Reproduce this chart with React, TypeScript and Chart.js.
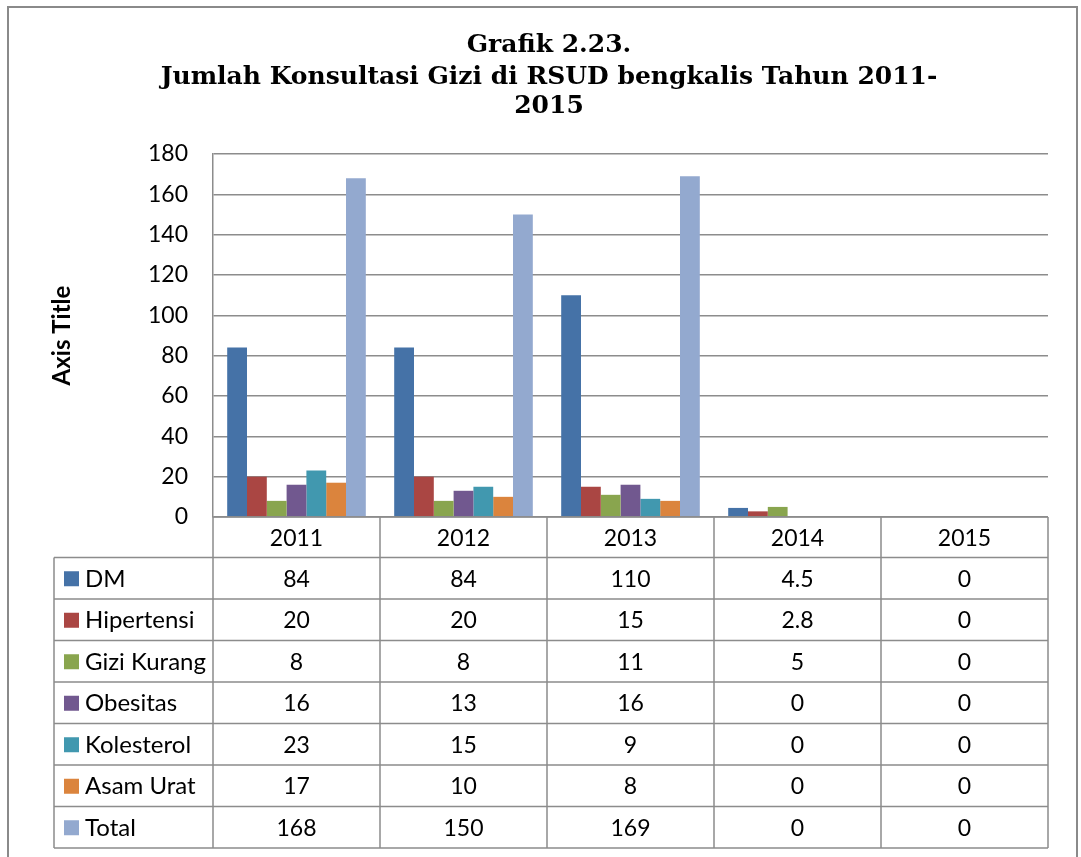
import React, { useEffect, useRef } from "react";
import { Chart, registerables } from "chart.js";

Chart.register(...registerables);

const categories = ["2011", "2012", "2013", "2014", "2015"];
const seriesNames = ["DM", "Hipertensi", "Gizi Kurang", "Obesitas", "Kolesterol", "Asam Urat", "Total"];
const dm = [84, 84, 110, 4.5, 0];
const hipertensi = [20, 20, 15, 2.8, 0];
const giziKurang = [8, 8, 11, 5, 0];
const obesitas = [16, 13, 16, 0, 0];
const kolesterol = [23, 15, 9, 0, 0];
const asamUrat = [17, 10, 8, 0, 0];
const total = [168, 150, 169, 0, 0];
const seriesColors = ["#4572A7", "#AA4643", "#89A54E", "#71588F", "#4198AF", "#DB843D", "#93A9CF"];
const titleLines = ["Grafik 2.23.", "Jumlah Konsultasi Gizi di RSUD bengkalis Tahun 2011-", "2015"];
const yAxisTitle = "Axis Title";
const yMin = 0;
const yMax = 180;
const yStep = 20;

const seriesValues = [dm, hipertensi, giziKurang, obesitas, kolesterol, asamUrat, total];

const GRID = "#8c8c8c";
const FONT = "Lato, 'Open Sans', sans-serif";

const framePlugin = {
  id: "frameAndTable",
  beforeDraw(chart: any) {
    const ctx = chart.ctx;
    ctx.save();
    ctx.fillStyle = "#ffffff";
    ctx.fillRect(0, 0, chart.width, chart.height);
    ctx.strokeStyle = "#8a8a8a";
    ctx.lineWidth = 2;
    ctx.strokeRect(8, 7, 1069, 900);
    ctx.restore();
  },
  afterDraw(chart: any) {
    const ctx = chart.ctx;
    const area = chart.chartArea;
    const xs = chart.scales.x;
    const n = categories.length;
    const colW = (area.right - area.left) / n;
    const headerH = 40.5;
    const rowH = 41.5;
    const legendLeft = 54;
    const headerBottom = area.bottom + headerH;
    const tableBottom = headerBottom + rowH * seriesNames.length;

    ctx.save();
    // title
    ctx.fillStyle = "#000";
    ctx.textAlign = "center";
    ctx.textBaseline = "middle";
    ctx.font = "bold 25px 'DejaVu Serif', serif";
    const tY = [45, 77, 106];
    titleLines.forEach((t, i) => ctx.fillText(t, 549, tY[i]));

    // table lines
    ctx.strokeStyle = GRID;
    ctx.lineWidth = 1.5;
    ctx.beginPath();
    ctx.moveTo(area.left, area.bottom);
    ctx.lineTo(area.right, area.bottom);
    for (let r = 0; r <= seriesNames.length; r++) {
      const y = headerBottom + r * rowH;
      ctx.moveTo(legendLeft, y);
      ctx.lineTo(area.right, y);
    }
    ctx.moveTo(legendLeft, headerBottom);
    ctx.lineTo(legendLeft, tableBottom);
    for (let i = 0; i < n; i++) {
      const cx = xs.getPixelForValue(i);
      const xl = cx - colW / 2;
      ctx.moveTo(xl, area.bottom);
      ctx.lineTo(xl, tableBottom);
    }
    ctx.moveTo(area.right, area.bottom);
    ctx.lineTo(area.right, tableBottom);
    ctx.stroke();

    // header labels
    ctx.fillStyle = "#000";
    ctx.font = `23px ${FONT}`;
    ctx.textAlign = "center";
    ctx.textBaseline = "middle";
    categories.forEach((c, i) => {
      ctx.fillText(c, xs.getPixelForValue(i), area.bottom + headerH / 2 + 1);
    });

    // rows
    seriesNames.forEach((name, r) => {
      const cy = headerBottom + r * rowH + rowH / 2 + 1;
      ctx.fillStyle = seriesColors[r];
      ctx.fillRect(64, cy - 8, 15, 15);
      ctx.fillStyle = "#000";
      ctx.textAlign = "left";
      ctx.font = `24px ${FONT}`;
      ctx.fillText(name, 85, cy);
      ctx.textAlign = "center";
      ctx.font = `23px ${FONT}`;
      seriesValues[r].forEach((v, i) => {
        ctx.fillText(String(v), xs.getPixelForValue(i), cy);
      });
    });
    ctx.restore();
  },
};

export default function App() {
  const ref = useRef<HTMLCanvasElement | null>(null);

  useEffect(() => {
    if (!ref.current) return;
    const chart = new Chart(ref.current, {
      type: "bar",
      data: {
        labels: categories,
        datasets: seriesNames.map((name, i) => ({
          label: name,
          data: seriesValues[i],
          backgroundColor: seriesColors[i],
          borderWidth: 0,
          categoryPercentage: 0.83,
          barPercentage: 1.0,
        })),
      },
      options: {
        responsive: false,
        animation: false,
        layout: { padding: { left: 0, top: 154, right: 33, bottom: 0 } },
        plugins: {
          legend: { display: false },
          title: { display: false },
          tooltip: { enabled: false },
        },
        scales: {
          x: {
            ticks: { display: false },
            grid: { display: false },
            border: { display: false },
            afterFit(scale: any) {
              scale.height = 340;
            },
          },
          y: {
            min: yMin,
            max: yMax,
            ticks: {
              stepSize: yStep,
              color: "#000",
              font: { family: FONT, size: 23 },
              padding: 25,
            },
            grid: { color: GRID, lineWidth: 1.5, drawTicks: false },
            border: { display: true, color: GRID, width: 1.5 },
            title: {
              display: true,
              text: yAxisTitle,
              color: "#000",
              font: { family: FONT, size: 24, weight: "bold" },
              padding: { top: 48, bottom: 0 },
            },
            afterFit(scale: any) {
              scale.width = 213;
            },
          },
        },
      },
      plugins: [framePlugin],
    });
    return () => chart.destroy();
  }, []);

  return (
    <div style={{ position: "absolute", left: 0, top: 0, width: 1081, height: 857 }}>
      <canvas ref={ref} width={1081} height={857} style={{ display: "block" }} />
    </div>
  );
}
